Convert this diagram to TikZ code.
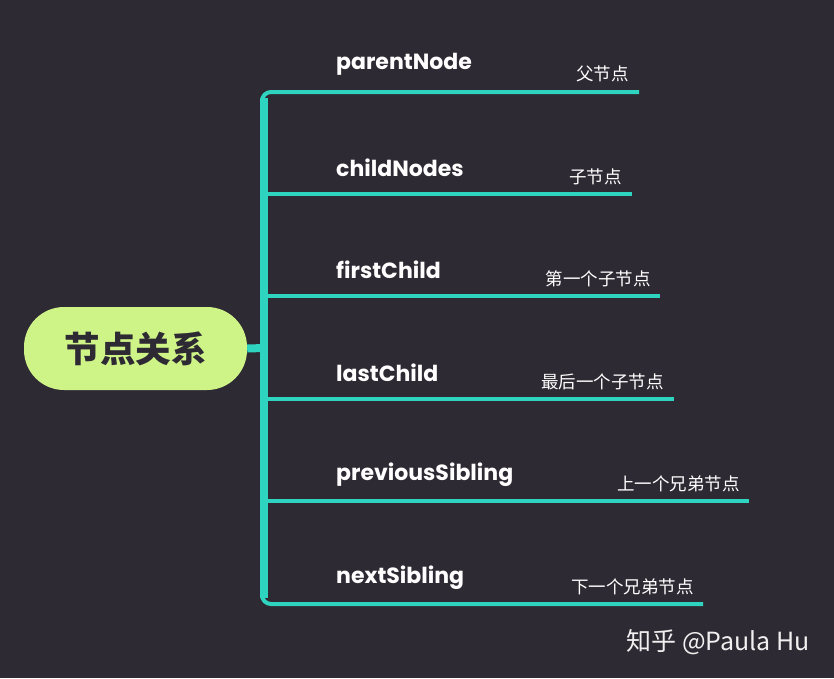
\documentclass[tikz,border=0pt]{standalone}
\usepackage{fontspec}
\setmainfont{Poppins}
\newfontfamily\cjk{Noto Sans CJK SC}
\definecolor{bg}{RGB}{46,42,51}
\definecolor{teal}{RGB}{47,212,192}
\definecolor{lime}{RGB}{206,243,135}
\definecolor{wm}{RGB}{240,240,240}
\tikzset{
  en/.style={anchor=west, text=white, font=\fontsize{22}{25}\selectfont\bfseries, inner sep=0pt},
  zh/.style={anchor=east, text=white, font=\cjk\fontsize{17.5}{20}\selectfont, inner sep=0pt},
  branch/.style={draw=teal, line width=4pt},
  trunk/.style={draw=teal, line width=8pt},
}
\begin{document}
\begin{tikzpicture}[x=1pt,y=-1pt]
\fill[bg] (0,0) rectangle (834,678);
\useasboundingbox (0,0) rectangle (834,678);
% root
\node[fill=lime, rounded corners=40pt, minimum width=223pt, minimum height=83pt, inner sep=0pt, text=bg, font=\cjk\fontsize{35.5}{38}\selectfont\bfseries] (root) at (135.5,348.5) {节点关系};
% trunk and branch coordinates
\coordinate (t0) at (264,348);
\coordinate (t1) at (262,92);   \coordinate (e1) at (639,92);
\coordinate (t2) at (262,194);  \coordinate (e2) at (632,194);
\coordinate (t3) at (262,296);  \coordinate (e3) at (660,296);
\coordinate (t4) at (262,399);  \coordinate (e4) at (674,399);
\coordinate (t5) at (262,501);  \coordinate (e5) at (749,501);
\coordinate (t6) at (262,604);  \coordinate (e6) at (703,604);
\draw[trunk] (root.east) -- (t0);
\draw[trunk] (264,98) -- (264,598);
\draw[branch, rounded corners=9pt] (e1) -- (t1) -- (t6) -- (e6);
\draw[branch] (t2) -- (e2);
\draw[branch] (t3) -- (e3);
\draw[branch] (t4) -- (e4);
\draw[branch] (t5) -- (e5);
% english labels
\node[en] (n1) at (336,64.5) {parentNode};
\node[en] (n2) at (336,167.5) {childNodes};
\node[en] (n3) at (336,269.5) {firstChild};
\node[en] (n4) at (336,372.5) {lastChild};
\node[en] (n5) at (336,474.5) {previousSibling};
\node[en] (n6) at (336,577.5) {nextSibling};
% chinese labels
\node[zh] (c1) at (629,74) {父节点};
\node[zh] (c2) at (622,177) {子节点};
\node[zh] (c3) at (651,279) {第一个子节点};
\node[zh] (c4) at (664,382) {最后一个子节点};
\node[zh] (c5) at (740,484) {上一个兄弟节点};
\node[zh] (c6) at (694,587) {下一个兄弟节点};
% watermark
\node[anchor=east, inner sep=0pt, text=wm, font=\cjk\fontsize{25}{28}\selectfont] (wmk) at (810,642) {知乎 @Paula Hu};
\end{tikzpicture}
\end{document}
